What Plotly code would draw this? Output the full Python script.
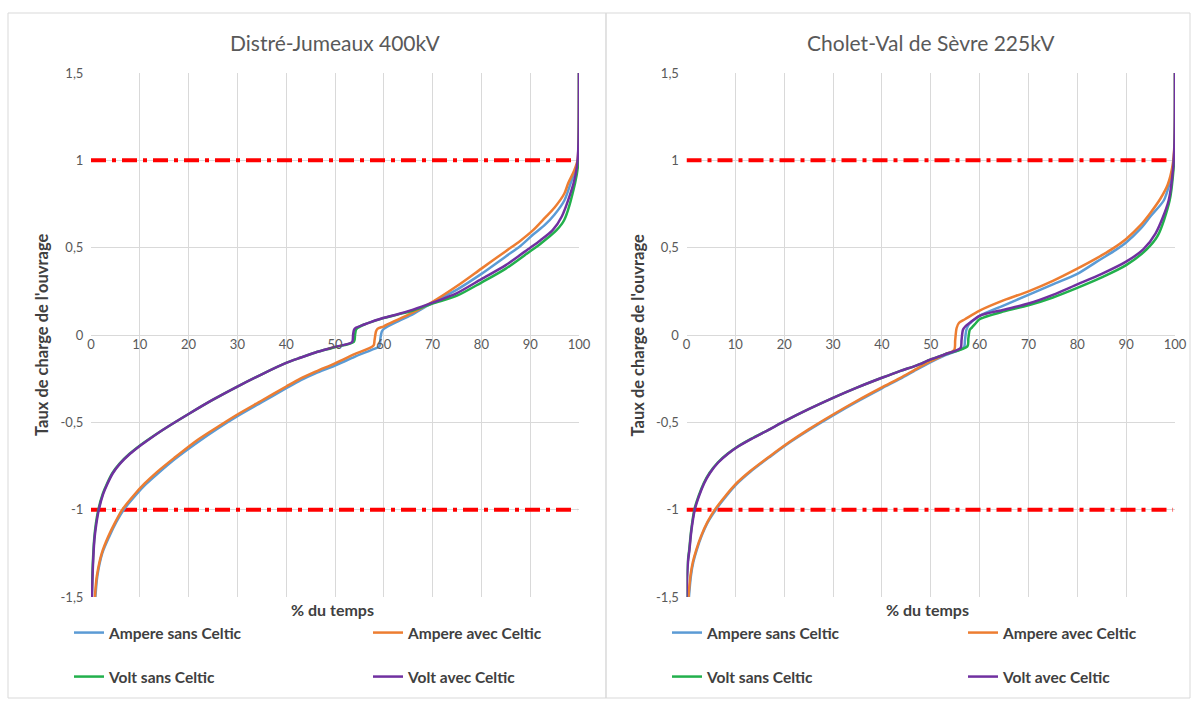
import plotly.graph_objects as go

W, H = 1192, 702

# ---------------- data ----------------
titles = ["Distré-Jumeaux 400kV", "Cholet-Val de Sèvre 225kV"]
series_names = ["Ampere sans Celtic", "Ampere avec Celtic", "Volt sans Celtic", "Volt avec Celtic"]
series_colors = ["#5B9BD5", "#ED7D31", "#22B04C", "#7030A0"]

x_ticks = [0, 10, 20, 30, 40, 50, 60, 70, 80, 90, 100]
y_tickvals = [-1.5, -1, -0.5, 0, 0.5, 1, 1.5]
y_ticktext = ["-1,5", "-1", "-0,5", "0", "0,5", "1", "1,5"]
limits = [-1, 1]

# Left chart : Distré-Jumeaux 400kV
dj_amp_sans_x = [0.9, 1.3, 2.3, 3.8, 5.2, 6.7, 9.2, 11.2, 13.8, 17.2, 21.8, 26, 30, 35, 40, 42.9, 46, 50, 54, 57.5, 59.1, 59.3, 59.6, 60, 63, 66, 70, 75, 80, 85, 88, 90.6, 93, 95, 97, 98.3, 99.3, 99.8, 99.95, 100]
dj_amp_sans_y = [-1.5, -1.38, -1.25, -1.15, -1.07, -1.0, -0.915, -0.855, -0.79, -0.71, -0.615, -0.535, -0.465, -0.385, -0.305, -0.26, -0.22, -0.175, -0.125, -0.085, -0.065, -0.02, 0.02, 0.035, 0.08, 0.12, 0.185, 0.26, 0.35, 0.45, 0.51, 0.575, 0.63, 0.69, 0.77, 0.87, 0.95, 1.0, 1.1, 1.5]
dj_amp_avec_x = [0.8, 1.2, 2.2, 3.6, 5, 6.4, 9, 11, 13.5, 17, 21.6, 26, 30, 35, 40, 42.9, 46, 50, 54, 57.9, 58.1, 58.4, 58.7, 60, 63, 66, 70, 75, 80, 85, 88, 90.6, 93, 95, 97, 97.8, 99, 99.7, 99.9, 100]
dj_amp_avec_y = [-1.5, -1.38, -1.25, -1.15, -1.07, -1.0, -0.91, -0.85, -0.785, -0.705, -0.605, -0.525, -0.455, -0.375, -0.295, -0.25, -0.21, -0.162, -0.11, -0.06, -0.03, 0.02, 0.035, 0.05, 0.09, 0.13, 0.19, 0.28, 0.38, 0.48, 0.54, 0.6, 0.67, 0.73, 0.81, 0.87, 0.94, 1.0, 1.1, 1.5]
dj_volt_sans_x = [0.15, 0.35, 0.65, 1.0, 1.5, 2.4, 3.3, 4.4, 5.9, 7.9, 9.9, 11.9, 15, 20, 25, 30, 35, 40, 42.9, 46, 50, 53.9, 54.1, 54.3, 54.6, 56, 59.8, 63, 66, 70, 75, 80, 85, 90, 92, 95.4, 97, 99.2, 99.8, 99.95, 100]
dj_volt_sans_y = [-1.5, -1.32, -1.17, -1.08, -1.0, -0.91, -0.85, -0.79, -0.735, -0.68, -0.635, -0.595, -0.538, -0.452, -0.37, -0.295, -0.225, -0.16, -0.13, -0.1, -0.07, -0.038, 0.0, 0.03, 0.04, 0.06, 0.095, 0.118, 0.14, 0.18, 0.225, 0.3, 0.38, 0.48, 0.52, 0.6, 0.66, 0.87, 0.97, 1.1, 1.5]
dj_volt_avec_x = [0.2, 0.4, 0.7, 1.1, 1.6, 2.5, 3.4, 4.5, 6, 8, 10, 12, 15, 20, 25, 30, 35, 40, 42.9, 46, 50, 53.5, 53.7, 53.9, 54.2, 56, 59.8, 63, 66, 70, 75, 80, 85, 90, 92, 94.6, 96.5, 98.9, 99.6, 99.9, 100]
dj_volt_avec_y = [-1.5, -1.32, -1.17, -1.08, -1.0, -0.91, -0.85, -0.79, -0.735, -0.68, -0.635, -0.595, -0.538, -0.452, -0.37, -0.295, -0.225, -0.16, -0.13, -0.1, -0.068, -0.04, 0.0, 0.03, 0.04, 0.06, 0.097, 0.12, 0.145, 0.185, 0.24, 0.32, 0.4, 0.5, 0.54, 0.6, 0.68, 0.87, 0.97, 1.1, 1.5]

# Right chart : Cholet-Val de Sèvre 225kV
cv_amp_sans_x = [0.5, 0.9, 1.4, 2.1, 3.1, 4.4, 6.0, 8.2, 10.2, 13.2, 17.2, 21.4, 25, 30, 35, 40, 43.8, 47, 50, 53, 56.8, 57.0, 57.3, 57.8, 59, 60, 65, 70, 75, 80, 84, 87.8, 90, 93, 95, 97.7, 98.8, 99.6, 99.95, 100]
cv_amp_sans_y = [-1.5, -1.38, -1.3, -1.23, -1.15, -1.07, -1.0, -0.92, -0.855, -0.78, -0.695, -0.61, -0.545, -0.46, -0.38, -0.305, -0.25, -0.2, -0.155, -0.115, -0.07, -0.03, 0.03, 0.06, 0.09, 0.11, 0.17, 0.23, 0.29, 0.35, 0.42, 0.486, 0.53, 0.61, 0.68, 0.77, 0.86, 0.97, 1.1, 1.5]
cv_amp_avec_x = [0.4, 0.8, 1.3, 2.0, 3, 4.3, 5.8, 8, 10, 13, 17, 21.2, 25, 30, 35, 40, 43.8, 47, 50, 53, 54.8, 55.0, 55.3, 55.8, 57, 60, 65, 70, 75, 80, 84, 87, 90, 93, 95, 97, 98.5, 99.5, 99.9, 100]
cv_amp_avec_y = [-1.5, -1.38, -1.3, -1.23, -1.15, -1.07, -1.0, -0.92, -0.855, -0.78, -0.695, -0.61, -0.54, -0.455, -0.375, -0.3, -0.245, -0.195, -0.15, -0.11, -0.085, -0.03, 0.04, 0.07, 0.09, 0.14, 0.2, 0.25, 0.31, 0.38, 0.44, 0.49, 0.55, 0.63, 0.7, 0.78, 0.86, 0.97, 1.1, 1.5]
cv_volt_sans_x = [0.0, 0.08, 0.25, 0.55, 0.95, 1.6, 2.5, 3.5, 4.7, 6.4, 8.4, 10.4, 13.2, 17, 20, 25, 30, 35, 40, 43.8, 47, 50, 53, 57.5, 57.7, 58.0, 58.5, 59.3, 60, 65, 70, 75, 80, 85, 90, 94.2, 96.5, 98.9, 99.7, 99.95, 100]
cv_volt_sans_y = [-1.5, -1.4, -1.3, -1.23, -1.12, -1.0, -0.92, -0.85, -0.79, -0.73, -0.68, -0.64, -0.595, -0.54, -0.495, -0.425, -0.36, -0.3, -0.245, -0.205, -0.175, -0.14, -0.11, -0.065, -0.02, 0.03, 0.045, 0.07, 0.09, 0.135, 0.17, 0.215, 0.27, 0.33, 0.4, 0.49, 0.57, 0.77, 0.95, 1.1, 1.5]
cv_volt_avec_x = [0.0, 0.1, 0.3, 0.6, 1.0, 1.7, 2.6, 3.6, 4.8, 6.5, 8.5, 10.5, 13.3, 17, 20, 25, 30, 35, 40, 43.8, 47, 50, 53, 56.1, 56.3, 56.6, 57.1, 58, 60, 65, 70, 75, 80, 85, 90, 93.5, 96, 98.7, 99.6, 99.9, 100]
cv_volt_avec_y = [-1.5, -1.4, -1.3, -1.23, -1.12, -1.0, -0.92, -0.85, -0.79, -0.73, -0.68, -0.64, -0.595, -0.54, -0.495, -0.425, -0.36, -0.3, -0.245, -0.205, -0.175, -0.14, -0.11, -0.075, -0.03, 0.03, 0.05, 0.07, 0.11, 0.145, 0.18, 0.23, 0.29, 0.35, 0.42, 0.49, 0.58, 0.77, 0.95, 1.1, 1.5]

charts = [
    [(dj_amp_sans_x, dj_amp_sans_y), (dj_amp_avec_x, dj_amp_avec_y),
     (dj_volt_sans_x, dj_volt_sans_y), (dj_volt_avec_x, dj_volt_avec_y)],
    [(cv_amp_sans_x, cv_amp_sans_y), (cv_amp_avec_x, cv_amp_avec_y),
     (cv_volt_sans_x, cv_volt_sans_y), (cv_volt_avec_x, cv_volt_avec_y)],
]

# ---------------- layout geometry (pixels) ----------------
FONT = "Lato"
plot_px = [(91, 579), (686.5, 1175)]
top_px, bot_px = 73, 597


def px(v):
    return v / W


def py(v):
    return 1 - v / H


fig = go.Figure()

legend_pos = [
    [(69, 633), (368, 633), (69, 677), (368, 677)],
    [(667, 633), (963, 633), (667, 677), (963, 677)],
]

lg_idx = 0
for c, data in enumerate(charts):
    xa = "x" if c == 0 else "x2"
    ya = "y" if c == 0 else "y2"
    # limit lines
    for lim in limits:
        fig.add_trace(go.Scatter(
            x=[0, 99.6], y=[lim, lim], mode="lines", xaxis=xa, yaxis=ya,
            line=dict(color="#FF0000", width=4, dash="15px,6px,4px,6px"),
            showlegend=False, hoverinfo="skip"))
    for s, (xs, ys) in enumerate(data):
        lg_idx += 1
        lname = "legend" if lg_idx == 1 else f"legend{lg_idx}"
        fig.add_trace(go.Scatter(
            x=xs, y=ys, mode="lines", name=series_names[s], xaxis=xa, yaxis=ya,
            line=dict(color=series_colors[s], width=2.5, shape="spline", smoothing=0.8),
            legend=lname, showlegend=True))
        lx, ly = legend_pos[c][s]
        fig.update_layout({lname: dict(
            x=px(lx), y=py(ly), xanchor="left", yanchor="middle",
            orientation="h", bgcolor="rgba(0,0,0,0)",
            font=dict(family=FONT, size=15.5, color="#404040", weight="bold"),
            itemwidth=30, tracegroupgap=0)})

for c in range(2):
    x0, x1 = plot_px[c]
    sfx = "" if c == 0 else "2"
    y_zero_px = top_px + (bot_px - top_px) * (1.5 - 0) / 3.0
    fig.update_layout({
        f"xaxis{sfx}": dict(
            domain=[px(x0), px(x1)], range=[0, 100], tickvals=x_ticks,
            anchor="free", position=py(y_zero_px),
            showgrid=True, gridcolor="#D9D9D9", gridwidth=1,
            showline=False, zeroline=False, ticks="",
            tickfont=dict(family=FONT, size=13, color="#595959"),
            automargin=False, fixedrange=True),
        f"yaxis{sfx}": dict(
            domain=[py(bot_px), py(top_px)], range=[-1.5, 1.5],
            tickvals=y_tickvals, ticktext=y_ticktext,
            anchor="x" + sfx, showgrid=True, gridcolor="#D9D9D9", gridwidth=1,
            zeroline=True, zerolinecolor="#D9D9D9", zerolinewidth=1,
            showline=False, ticks="outside", ticklen=4, tickcolor="rgba(0,0,0,0)",
            tickfont=dict(family=FONT, size=13, color="#595959"),
            automargin=False, fixedrange=True),
    })

annotations = []
shapes = []
for c in range(2):
    x0, x1 = plot_px[c]
    cx = (x0 + x1) / 2
    annotations.append(dict(
        text=titles[c], x=px(cx), y=py(42), xref="paper", yref="paper",
        showarrow=False, xanchor="center", yanchor="middle",
        font=dict(family=FONT, size=21, color="#595959")))
    annotations.append(dict(
        text="<b>% du temps</b>", x=px(cx - 3), y=py(609), xref="paper", yref="paper",
        showarrow=False, xanchor="center", yanchor="middle",
        font=dict(family=FONT, size=16, color="#404040")))
    annotations.append(dict(
        text="<b>Taux de charge de l'ouvrage</b>", x=px(x0 - 49), y=py(335),
        xref="paper", yref="paper", showarrow=False, textangle=-90,
        xanchor="center", yanchor="middle",
        font=dict(family=FONT, size=16.5, color="#404040")))

for (a, b) in [(8, 606), (606, 1190)]:
    shapes.append(dict(type="rect", xref="paper", yref="paper",
                       x0=px(a), x1=px(b), y0=py(698), y1=py(13),
                       line=dict(color="#D9D9D9", width=1), fillcolor="rgba(0,0,0,0)",
                       layer="below"))

fig.update_layout(
    width=W, height=H, margin=dict(l=0, r=0, t=0, b=0),
    paper_bgcolor="white", plot_bgcolor="white",
    annotations=annotations, shapes=shapes,
    font=dict(family=FONT),
)

fig.write_html("out.html", config={"displayModeBar": False},
               post_script="document.body.style.margin='0px';")
